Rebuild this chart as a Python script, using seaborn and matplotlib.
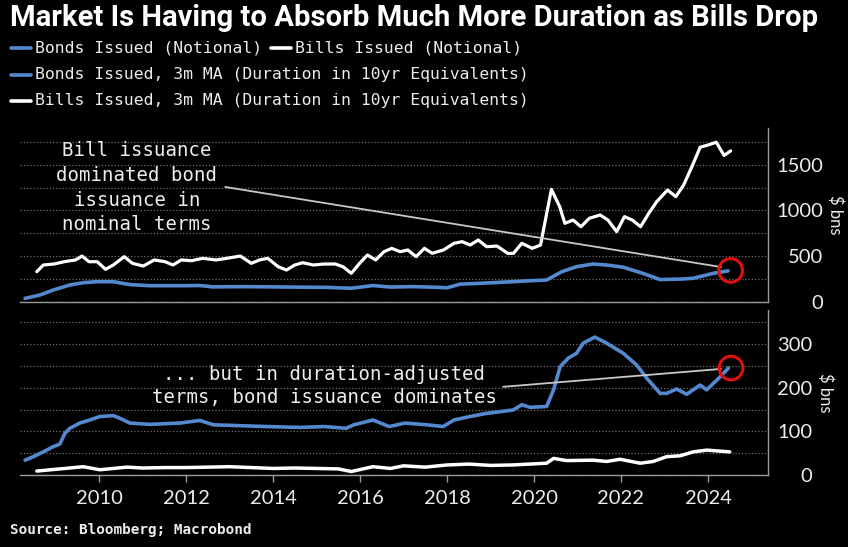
import numpy as np
import pandas as pd
import matplotlib
matplotlib.use("Agg")
import matplotlib.pyplot as plt
from matplotlib.lines import Line2D
from matplotlib.ticker import MultipleLocator
import seaborn as sns

# ---------------- data ----------------
bills_notional_t = [2008.57, 2008.72, 2008.97, 2009.20, 2009.46, 2009.61, 2009.77, 2009.96,
                    2010.15, 2010.33, 2010.58, 2010.77, 2011.02, 2011.27, 2011.52, 2011.70,
                    2011.89, 2012.13, 2012.38, 2012.69, 2012.94, 2013.25, 2013.50, 2013.69,
                    2013.88, 2014.12, 2014.31, 2014.50, 2014.68, 2014.93, 2015.17, 2015.43,
                    2015.61, 2015.80, 2015.99, 2016.17, 2016.36, 2016.55, 2016.73, 2016.92,
                    2017.10, 2017.29, 2017.48, 2017.66, 2017.92, 2018.16, 2018.35, 2018.53,
                    2018.72, 2018.91, 2019.15, 2019.40, 2019.53, 2019.72, 2019.96, 2020.15,
                    2020.40, 2020.59, 2020.71, 2020.90, 2021.08, 2021.27, 2021.52, 2021.70,
                    2021.90, 2022.08, 2022.26, 2022.45, 2022.64, 2022.82, 2023.07, 2023.26,
                    2023.44, 2023.63, 2023.82, 2024.00, 2024.19, 2024.37, 2024.52]
bills_notional = [331, 404, 415, 440, 459, 502, 440, 440,
                  357, 404, 495, 422, 393, 459, 440, 404,
                  459, 451, 477, 459, 477, 502, 422, 459,
                  477, 385, 349, 404, 429, 404, 415, 415,
                  385, 313, 422, 513, 459, 549, 586, 549,
                  568, 495, 586, 532, 568, 641, 659, 622,
                  677, 604, 611, 530, 532, 641, 586, 622,
                  1230, 1041, 859, 895, 822, 914, 950, 895,
                  768, 932, 895, 822, 969, 1095, 1223, 1150,
                  1278, 1477, 1690, 1714, 1745, 1600, 1650]

bonds_notional_t = [2008.30, 2008.64, 2008.95, 2009.33, 2009.64, 2009.95, 2010.33, 2010.71,
                    2011.17, 2012.00, 2012.32, 2012.62, 2013.30, 2014.00, 2014.60, 2015.20,
                    2015.80, 2016.30, 2016.70, 2017.20, 2017.80, 2018.00, 2018.30, 2018.76,
                    2019.10, 2019.52, 2019.90, 2020.29, 2020.64, 2020.98, 2021.36, 2021.67,
                    2022.05, 2022.50, 2022.90, 2023.36, 2023.66, 2024.12, 2024.46]
bonds_notional = [40, 76, 131, 186, 211, 222, 222, 190,
                  178, 178, 180, 165, 168, 165, 162, 160,
                  150, 180, 163, 168, 160, 155, 195, 204,
                  212, 222, 232, 240, 331, 386, 415, 404,
                  380, 313, 245, 250, 259, 313, 340]

bonds_duration_t = [2008.30, 2008.49, 2008.72, 2008.95, 2009.10, 2009.22, 2009.33, 2009.56,
                    2009.79, 2010.02, 2010.33, 2010.48, 2010.71, 2011.17, 2011.86, 2012.32,
                    2012.63, 2013.24, 2013.86, 2014.62, 2015.17, 2015.68, 2015.86, 2016.30,
                    2016.67, 2017.04, 2017.54, 2017.91, 2018.16, 2018.53, 2018.90, 2019.22,
                    2019.52, 2019.72, 2019.91, 2020.29, 2020.45, 2020.60, 2020.79, 2020.98,
                    2021.13, 2021.40, 2021.67, 2022.05, 2022.36, 2022.59, 2022.90, 2023.05,
                    2023.28, 2023.51, 2023.82, 2023.97, 2024.28, 2024.47]
bonds_duration = [34, 42, 53, 65, 71, 96, 107, 119,
                  126, 134, 136, 130, 119, 116, 119, 125,
                  115, 113, 111, 109, 111, 107, 115, 126,
                  111, 119, 115, 111, 126, 134, 141, 145,
                  149, 161, 155, 157, 195, 248, 268, 279,
                  302, 316, 302, 279, 252, 222, 187, 187,
                  197, 185, 206, 195, 225, 245]

bills_duration_t = [2008.57, 2009.00, 2009.64, 2010.02, 2010.64, 2011.00, 2011.50, 2012.00,
                    2012.50, 2013.00, 2013.50, 2014.00, 2014.50, 2015.00, 2015.50, 2015.80,
                    2016.30, 2016.70, 2017.00, 2017.50, 2018.00, 2018.50, 2019.00, 2019.50,
                    2020.29, 2020.45, 2020.75, 2021.36, 2021.67, 2021.98, 2022.44, 2022.74,
                    2023.05, 2023.36, 2023.66, 2023.97, 2024.50]
bills_duration = [9, 13, 19, 12, 18, 16, 17, 17,
                  18, 19, 17, 15, 16, 15, 14, 8,
                  19, 15, 21, 18, 23, 25, 22, 23,
                  27, 38, 33, 34, 31, 36, 27, 31,
                  42, 44, 53, 57, 53]

x_tick_years = [2010, 2012, 2014, 2016, 2018, 2020, 2022, 2024]

title = "Market Is Having to Absorb Much More Duration as Bills Drop"
legend_labels = ["Bonds Issued (Notional)", "Bills Issued (Notional)",
                 "Bonds Issued, 3m MA (Duration in 10yr Equivalents)",
                 "Bills Issued, 3m MA (Duration in 10yr Equivalents)"]
note_top = ["Bill issuance", "dominated bond", "issuance in", "nominal terms"]
note_bottom = ["... but in duration-adjusted", "terms, bond issuance dominates"]
source = "Source: Bloomberg; Macrobond"
unit = "$ bns"

# ---------------- style ----------------
BLUE = "#5489cf"
WHITE = "#ffffff"
GRID = "#6e6e6e"
SPINE = "#9a9a9a"
TXT = "#ececec"
MONO = ["DejaVu Sans Mono"]
TICKF = ["Lato", "DejaVu Sans"]

sns.set_theme(style="dark", rc={"axes.facecolor": "black", "figure.facecolor": "black",
                                "savefig.facecolor": "black"})

W, H = 848, 547
fig = plt.figure(figsize=(W / 100, H / 100), dpi=100)


def fx(x):
    return x / W


def fy(y):
    return 1 - y / H


ax1 = fig.add_axes([fx(20), fy(302), fx(768) - fx(20), fy(128) - fy(302)])
ax2 = fig.add_axes([fx(20), fy(475), fx(768) - fx(20), fy(310) - fy(475)])

XMIN, XMAX = 2008 + 8 / 43.5, 2008 + 756 / 43.5

df_top_w = pd.DataFrame({"t": bills_notional_t, "v": bills_notional})
df_top_b = pd.DataFrame({"t": bonds_notional_t, "v": bonds_notional})
df_bot_b = pd.DataFrame({"t": bonds_duration_t, "v": bonds_duration})
df_bot_w = pd.DataFrame({"t": bills_duration_t, "v": bills_duration})

sns.lineplot(data=df_top_w, x="t", y="v", ax=ax1, color=WHITE, lw=2.3, zorder=3)
sns.lineplot(data=df_top_b, x="t", y="v", ax=ax1, color=BLUE, lw=2.6, zorder=3)
sns.lineplot(data=df_bot_b, x="t", y="v", ax=ax2, color=BLUE, lw=2.6, zorder=3)
sns.lineplot(data=df_bot_w, x="t", y="v", ax=ax2, color=WHITE, lw=2.5, zorder=3)

for ax, ylim, major, minor, pad in [(ax1, (0, 1900), 500, 250, 39.6),
                                    (ax2, (0, 378), 100, 50, 31.7)]:
    ax.set_facecolor("black")
    ax.set_xlim(XMIN, XMAX)
    ax.set_ylim(*ylim)
    ax.set_xlabel("")
    ax.set_ylabel("")
    for s in ["top", "left"]:
        ax.spines[s].set_visible(False)
    for s in ["bottom", "right"]:
        ax.spines[s].set_visible(True)
        ax.spines[s].set_color(SPINE)
        ax.spines[s].set_linewidth(1.0)
    ax.yaxis.tick_right()
    ax.yaxis.set_major_locator(MultipleLocator(major))
    ax.yaxis.set_minor_locator(MultipleLocator(minor))
    ax.grid(False)
    ax.grid(True, axis="y", which="both", color=GRID, lw=0.9, linestyle=(0, (1, 1.6)))
    ax.tick_params(axis="y", which="both", length=0, pad=pad, colors=TXT, labelsize=14.5)
    for lab in ax.get_yticklabels():
        lab.set_ha("right")
        lab.set_family(TICKF)

ax1.set_xticks([])
ax2.set_xticks(x_tick_years)
ax2.set_xticklabels([str(y) for y in x_tick_years])
ax2.tick_params(axis="x", length=5, width=1, color=SPINE, colors=TXT, pad=6, labelsize=14.5,
                bottom=True)
for lab in ax2.get_xticklabels():
    lab.set_family(TICKF)

# red circles + pointers
ax1.annotate("", xy=(2024.30, 382), xytext=(2012.90, 1256),
             arrowprops=dict(arrowstyle="-", color="#c8c8c8", lw=1.3, shrinkA=0, shrinkB=0),
             zorder=4)
ax2.annotate("", xy=(2024.30, 243), xytext=(2019.29, 202),
             arrowprops=dict(arrowstyle="-", color="#c8c8c8", lw=1.3, shrinkA=0, shrinkB=0),
             zorder=4)
ax1.scatter([bonds_notional_t[-1] + 0.06], [bonds_notional[-1] + 5], s=290, facecolors="none",
            edgecolors="#e01010", linewidths=2.2, zorder=5, clip_on=False)
ax2.scatter([bonds_duration_t[-1] + 0.06], [bonds_duration[-1]], s=290, facecolors="none",
            edgecolors="#e01010", linewidths=2.2, zorder=5, clip_on=False)

# ---------------- texts ----------------
renderer = fig.canvas.get_renderer()


def fit(t, width):
    bb = t.get_window_extent(renderer)
    t.set_fontsize(t.get_fontsize() * width / bb.width)


t = fig.text(fx(10), fy(18), title, color=WHITE, fontweight="bold", va="center", ha="left",
             family=["Roboto", "DejaVu Sans"], fontsize=18)
fit(t, 810)

# legend
leg_rows = [(48, 35, legend_labels[0], BLUE), (48, 295, legend_labels[1], WHITE),
            (75, 35, legend_labels[2], BLUE), (101, 35, legend_labels[3], WHITE)]
ref = fig.text(0, 0, legend_labels[2], family=MONO, fontsize=12)
fit(ref, 492)
lfs = ref.get_fontsize()
ref.remove()
for y, x, lab, col in leg_rows:
    fig.text(fx(x), fy(y), lab, color=TXT, family=MONO, fontsize=lfs, va="center", ha="left")
    fig.add_artist(Line2D([fx(x - 24), fx(x - 4)], [fy(y), fy(y)], color=col, lw=2.6))

# annotation texts
ref = fig.text(0, 0, note_top[1], family=MONO, fontsize=14)
fit(ref, 161)
afs = ref.get_fontsize()
ref.remove()
for yy, line in zip([150.7, 175.7, 200.0, 225.0], note_top):
    fig.text(fx(137), fy(yy), line, color=TXT, family=MONO, fontsize=afs, ha="center",
             va="center")
for yy, line in zip([375.0, 398.0], note_bottom):
    fig.text(fx(324), fy(yy), line, color=TXT, family=MONO, fontsize=afs, ha="center",
             va="center")

# unit labels
fig.text(fx(835), fy(215), unit, color=TXT, family=TICKF, fontsize=12, rotation=-90,
         ha="center", va="center")
fig.text(fx(825), fy(393), unit, color=TXT, family=TICKF, fontsize=12, rotation=-90,
         ha="center", va="center")

s = fig.text(fx(10), fy(530), source, color=TXT, family=MONO, fontweight="bold",
             fontsize=10, ha="left", va="center")
fit(s, 242)

fig.savefig("out.png", dpi=100, facecolor="black")
